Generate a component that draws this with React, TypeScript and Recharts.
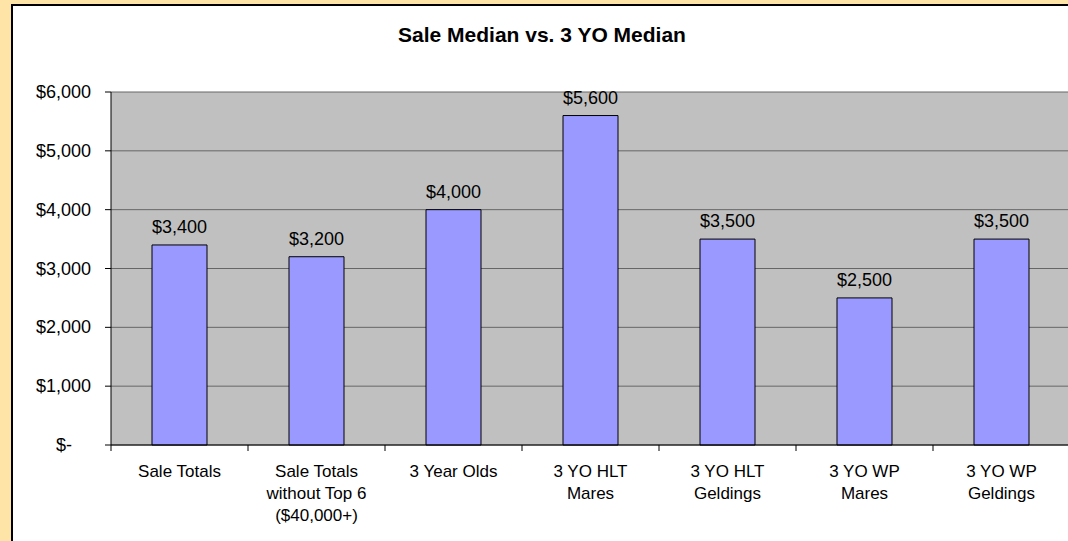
import React from "react";
import { BarChart, Bar, XAxis, YAxis, CartesianGrid, LabelList } from "recharts";

const categories: string[] = [
  "Sale Totals",
  "Sale Totals\nwithout Top 6\n($40,000+)",
  "3 Year Olds",
  "3 YO HLT\nMares",
  "3 YO HLT\nGeldings",
  "3 YO WP\nMares",
  "3 YO WP\nGeldings",
];
const medians: number[] = [3400, 3200, 4000, 5600, 3500, 2500, 3500];
const yTicks: number[] = [0, 1000, 2000, 3000, 4000, 5000, 6000];

const data = categories.map((c, i) => ({ name: c, value: medians[i] }));

const FONT = "'Liberation Sans', Arial, Helvetica, sans-serif";

const money = (v: number) => (v === 0 ? "$-" : "$" + v.toLocaleString("en-US"));

const BAND = (1070 - 111) / 7;

const XTick = (props: any) => {
  const { x, y, payload } = props;
  const lines = String(payload.value).split("\n");
  const bx = x - BAND / 2;
  return (
    <g>
      <line x1={bx} y1={y} x2={bx} y2={y + 6} stroke="#000" strokeWidth={1} />
      <text x={x} y={y} textAnchor="middle" fontFamily={FONT} fontSize={17} fill="#000">
        {lines.map((l, i) => (
          <tspan key={i} x={x} y={y + 32 + i * 22}>
            {l}
          </tspan>
        ))}
      </text>
    </g>
  );
};

const YTick = (props: any) => {
  const { x, y, payload } = props;
  const v = Number(payload.value);
  const dx = v === 0 ? -19 : 0;
  return (
    <text x={x + dx} y={y} dy={6} textAnchor="end" fontFamily={FONT} fontSize={18} fill="#000">
      {money(v)}
    </text>
  );
};

export default function App() {
  return (
    <div
      style={{
        position: "absolute",
        left: 0,
        top: 0,
        width: 1068,
        height: 541,
        background: "#FFE4A8",
        overflow: "hidden",
      }}
    >
      <div
        style={{
          position: "absolute",
          left: 11,
          top: 4,
          width: 1120,
          height: 600,
          background: "#fff",
          border: "2px solid #000",
          boxSizing: "border-box",
        }}
      />
      <div
        style={{
          position: "absolute",
          left: 8,
          top: 23,
          width: 1068,
          textAlign: "center",
          fontFamily: FONT,
          fontWeight: "bold",
          fontSize: 21,
          lineHeight: "24px",
          color: "#000",
        }}
      >
        Sale Median vs. 3 YO Median
      </div>
      <div style={{ position: "absolute", left: 0, top: 0 }}>
        <BarChart
          width={1070}
          height={541}
          data={data}
          margin={{ top: 92, right: 0, left: 0, bottom: 0 }}
          barSize={55}
        >
          <CartesianGrid horizontal vertical={false} fill="#C0C0C0" stroke="#666666" strokeWidth={1} />
          <XAxis
            dataKey="name"
            height={96}
            interval={0}
            tickLine={false}
            tickSize={0}
            tickMargin={0}
            axisLine={{ stroke: "#000", strokeWidth: 1 }}
            tick={<XTick />}
          />
          <YAxis
            width={111}
            domain={[0, 6000]}
            ticks={yTicks}
            interval={0}
            tickSize={6}
            tickMargin={14}
            tickLine={{ stroke: "#000" }}
            axisLine={{ stroke: "#000", strokeWidth: 1 }}
            tick={<YTick />}
          />
          <Bar dataKey="value" fill="#9999FF" stroke="#000" strokeWidth={1} isAnimationActive={false}>
            <LabelList
              dataKey="value"
              position="top"
              offset={12}
              formatter={(v: any) => money(Number(v))}
              fill="#000"
              fontSize={18}
              fontFamily={FONT}
            />
          </Bar>
        </BarChart>
      </div>
    </div>
  );
}
